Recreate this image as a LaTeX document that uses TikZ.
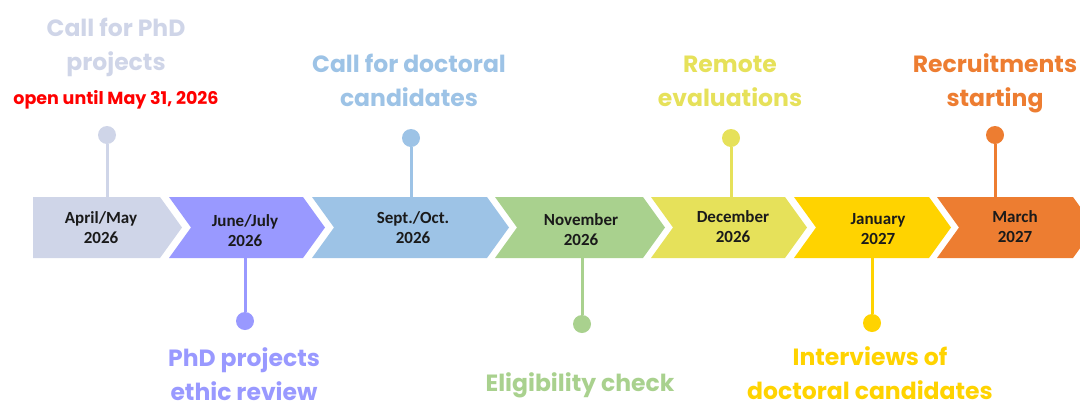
\documentclass[tikz,border=0pt]{standalone}
\usepackage{fontspec}
\newfontfamily\datefont{Carlito}
\newfontfamily\labfont{Poppins}
\definecolor{cA}{HTML}{CFD5E8}
\definecolor{cB}{HTML}{9999FF}
\definecolor{cC}{HTML}{9DC3E6}
\definecolor{cD}{HTML}{A9D18E}
\definecolor{cE}{HTML}{E6E15A}
\definecolor{cF}{HTML}{FFD300}
\definecolor{cG}{HTML}{ED7D31}
\definecolor{redtxt}{HTML}{FF0000}
\definecolor{datetxt}{HTML}{1A1A1A}
\tikzset{
  datelbl/.style={font=\datefont\bfseries\fontsize{17}{20}\selectfont, text=datetxt, align=center, inner sep=0pt},
  evlbl/.style={font=\labfont\bfseries\fontsize{23.5}{34}\selectfont, align=center, inner sep=0pt, anchor=base},
  pin/.style={circle, inner sep=0pt, minimum size=18pt},
  stem/.style={line width=3pt},
}
\newcommand{\chev}[4]{% color, left, right, notch(1/0)
  \fill[#1] (#2,197) -- (#3,197) -- (#3+22,227.5) -- (#3,258) -- (#2,258) -- (#2+22*#4,227.5) -- cycle;}
\begin{document}
\begin{tikzpicture}[x=1pt,y=-1pt]
\useasboundingbox (0,0) rectangle (1080,405);
\clip (0,0) rectangle (1080,405);
% chevrons
\chev{cA}{33}{160}{0}
\chev{cB}{169}{303}{1}
\chev{cC}{312}{487}{1}
\chev{cD}{495}{643}{1}
\chev{cE}{651}{785}{1}
\chev{cF}{794}{929}{1}
\chev{cG}{937}{1073}{1}
% date texts
\node[datelbl] (c1) at (101,228) {April/May\\2026};
\node[datelbl] (c2) at (245,231) {June/July\\2026};
\node[datelbl] (c3) at (413,228) {Sept./Oct.\\2026};
\node[datelbl] (c4) at (581,230) {November\\2026};
\node[datelbl] (c5) at (733,227) {December\\2026};
\node[datelbl] (c6) at (878,229) {January\\2027};
\node[datelbl] (c7) at (1015,227) {March\\2027};
% anchor points on chevron edges
\coordinate (t1) at (107,197);
\coordinate (b2) at (245,258);
\coordinate (t3) at (411,197);
\coordinate (b4) at (582,258);
\coordinate (t5) at (731,197);
\coordinate (b6) at (872,258);
\coordinate (t7) at (995,197);
% pins
\node[pin, fill=cA] (p1) at (107,135) {};
\node[pin, fill=cB] (p2) at (245,321) {};
\node[pin, fill=cC] (p3) at (411,138) {};
\node[pin, fill=cD] (p4) at (582,324) {};
\node[pin, fill=cE] (p5) at (731,138) {};
\node[pin, fill=cF] (p6) at (872,323) {};
\node[pin, fill=cG] (p7) at (995,135) {};
\draw[stem, cA] (p1) -- (t1);
\draw[stem, cB] (p2) -- (b2);
\draw[stem, cC] (p3) -- (t3);
\draw[stem, cD] (p4) -- (b4);
\draw[stem, cE] (p5) -- (t5);
\draw[stem, cF] (p6) -- (b6);
\draw[stem, cG] (p7) -- (t7);
% event labels (anchor = baseline of last line)
\node[evlbl, text=cA] (l1) at (116,70) {Call for PhD\\projects};
\node[font=\labfont\bfseries\fontsize{17.5}{20}\selectfont, text=redtxt, anchor=base, inner sep=0pt] (r1) at (116,104) {open until May 31, 2026};
\node[evlbl, text=cB] (l2) at (244,400) {PhD projects\\ethic review};
\node[evlbl, text=cC] (l3) at (409,106) {Call for doctoral\\candidates};
\node[evlbl, text=cD] (l4) at (580,391) {Eligibility check};
\node[evlbl, text=cE] (l5) at (730,106) {Remote\\evaluations};
\node[evlbl, text=cF] (l6) at (870,399) {Interviews of\\doctoral candidates};
\node[evlbl, text=cG] (l7) at (995,106) {Recruitments\\starting};
\end{tikzpicture}
\end{document}
